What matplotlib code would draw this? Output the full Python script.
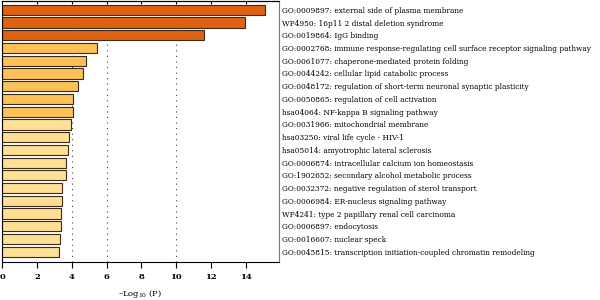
import matplotlib
matplotlib.use("Agg")
import matplotlib.pyplot as plt

# enrichment terms, top to bottom
terms = [
    "GO:0009897: external side of plasma membrane",
    "WP4950: 16p11 2 distal deletion syndrome",
    "GO:0019864: IgG binding",
    "GO:0002768: immune response-regulating cell surface receptor signaling pathway",
    "GO:0061077: chaperone-mediated protein folding",
    "GO:0044242: cellular lipid catabolic process",
    "GO:0048172: regulation of short-term neuronal synaptic plasticity",
    "GO:0050865: regulation of cell activation",
    "hsa04064: NF-kappa B signaling pathway",
    "GO:0031966: mitochondrial membrane",
    "hsa03250: viral life cycle - HIV-1",
    "hsa05014: amyotrophic lateral sclerosis",
    "GO:0006874: intracellular calcium ion homeostasis",
    "GO:1902652: secondary alcohol metabolic process",
    "GO:0032372: negative regulation of sterol transport",
    "GO:0006984: ER-nucleus signaling pathway",
    "WP4241: type 2 papillary renal cell carcinoma",
    "GO:0006897: endocytosis",
    "GO:0016607: nuclear speck",
    "GO:0045815: transcription initiation-coupled chromatin remodeling",
]
neg_log_p = [15.1, 13.93, 11.6, 5.46, 4.8, 4.66, 4.39, 4.07, 4.05, 3.95,
             3.82, 3.76, 3.69, 3.65, 3.47, 3.42, 3.38, 3.36, 3.34, 3.30]
xticks = [0, 2, 4, 6, 8, 10, 12, 14]
grid_at = [4, 6, 10]

plt.rcParams['font.family'] = ['DejaVu Serif']
plt.rcParams['mathtext.fontset'] = 'dejavuserif'

def bar_color(v):
    if v > 10:
        return '#DE6212'
    if v > 4:
        return '#FDC157'
    return '#FEDF93'

fig = plt.figure(figsize=(6, 3), dpi=100)
ax = fig.add_axes([2 / 600, 1 - 262 / 300, 277 / 600, 262 / 300 - 0.002])

for g in grid_at:
    ax.axvline(g, color='#444444', linestyle=(0, (1, 4)), linewidth=0.8, zorder=0)

ypos = list(range(len(terms)))
ax.barh(ypos, neg_log_p, height=0.8, color=[bar_color(v) for v in neg_log_p],
        edgecolor='#3b2a1a', linewidth=0.8, zorder=2)

ax.set_ylim(19.8, -0.72)
ax.set_xlim(0, 15.9)
ax.set_xticks(xticks)
ax.set_xticklabels([str(t) for t in xticks], fontsize=6, fontweight='bold')
ax.tick_params(axis='x', which='major', bottom=True, top=False,
               direction='out', length=4, width=0.8, pad=4)

# short inward marks on the top frame
top = ax.secondary_xaxis('top')
top.set_xticks(xticks)
top.set_xticklabels([])
top.tick_params(direction='in', length=2, width=0.8)

ax.yaxis.tick_right()
ax.set_yticks(ypos)
ax.set_yticklabels(terms, fontsize=5.3)
ax.tick_params(axis='y', length=0, pad=2.5)

ax.spines['right'].set_color('#777777')
for s in ['top', 'bottom', 'left']:
    ax.spines[s].set_linewidth(0.8)

ax.set_xlabel(r'–Log$_{10}$ (P)', fontsize=6, labelpad=5)

fig.savefig('out.png', dpi=100)
